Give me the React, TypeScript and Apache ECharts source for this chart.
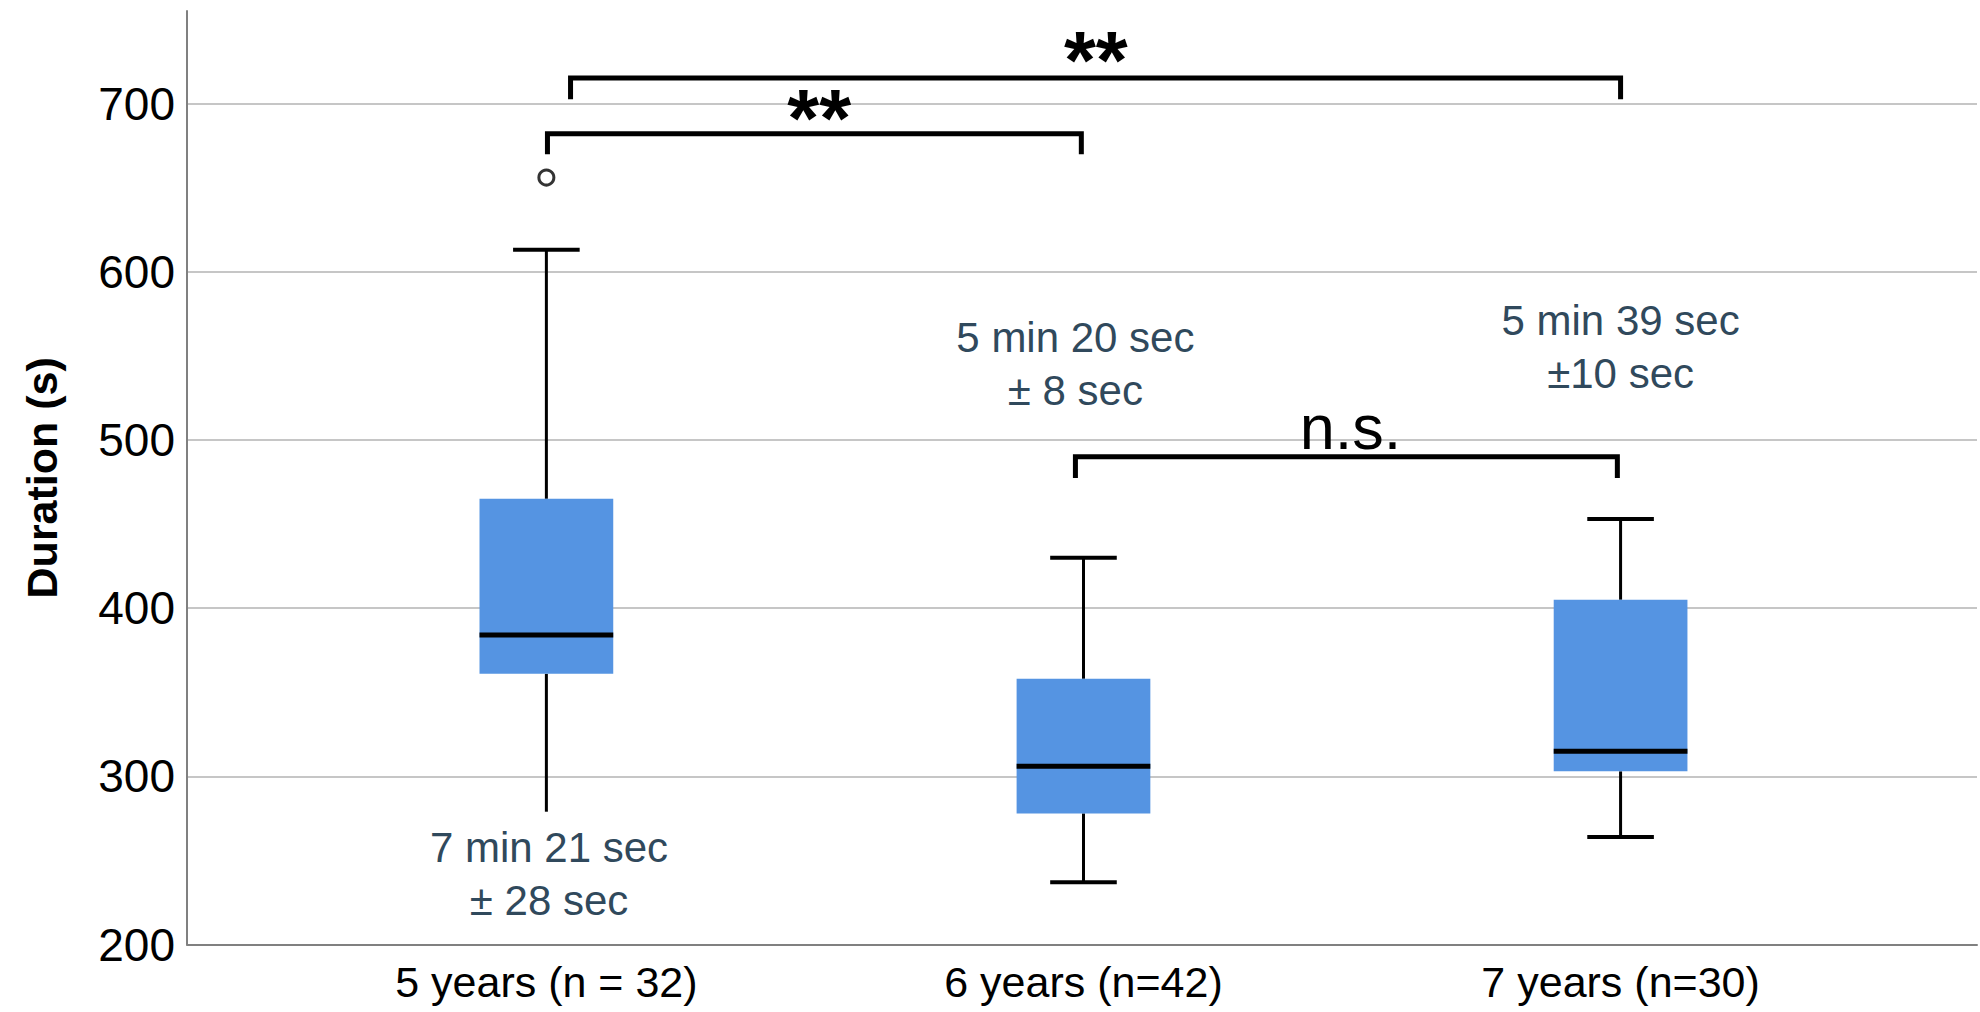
import React, { useEffect, useRef } from "react";
import * as echarts from "echarts";

// ---- data ----
const categories = ["5 years (n = 32)", "6 years (n=42)", "7 years (n=30)"];
const whiskerLow = [279, 237, 264];
const q1 = [361, 278, 303];
const median = [384, 306, 315];
const q3 = [465, 358, 405];
const whiskerHigh = [613, 430, 453];
const lowerCap = [false, true, true];
const outliers: [number, number][] = [[1, 656]];

// significance brackets (x in group units, y in seconds)
const bracketFrom = [1.002, 1.045, 1.985];
const bracketTo = [1.996, 3.0, 2.994];
const bracketTop = [682, 715.2, 490];
const bracketLeg = [669.8, 702.5, 477.4];
const bracketLabels = ["**", "**", "n.s."];
const bracketLabelX = [1.508, 2.023, 2.497];
const bracketLabelY = [691.5, 726, 507.8];

// mean ± SD annotations
const annotations = ["7 min 21 sec\n± 28 sec", "5 min 20 sec\n± 8 sec", "5 min 39 sec\n±10 sec"];
const annotationX = [1.005, 1.985, 3.0];
const annotationY = [241.7, 545.4, 555.2];

const yMin = 200;
const yMax = 755;
const yInterval = 100;

const FONT = "'Liberation Sans', Arial, sans-serif";
const BOX_W = 0.249;
const CAP_W = 0.124;

export default function App() {
  const ref = useRef<HTMLDivElement>(null);

  useEffect(() => {
    if (!ref.current) return;
    const chart = echarts.init(ref.current, undefined, { renderer: "svg" });

    const boxData = categories.map((_, i) => [
      i + 1,
      whiskerLow[i],
      q1[i],
      median[i],
      q3[i],
      whiskerHigh[i],
      lowerCap[i] ? 1 : 0,
    ]);

    const bracketData = bracketFrom.map((f, i) => [f, bracketTo[i], bracketTop[i], bracketLeg[i]]);
    const bracketLabelData = bracketLabels.map((t, i) => [bracketLabelX[i], bracketLabelY[i], t]);
    const annotationData = annotations.map((t, i) => [annotationX[i], annotationY[i], t]);

    const option: any = {
      animation: false,
      backgroundColor: "#ffffff",
      grid: { left: 187, right: 0, top: 11, bottom: 67.4, containLabel: false },
      xAxis: {
        type: "value",
        min: 0.3309,
        max: 3.6636,
        axisLine: { show: true, lineStyle: { color: "#808080", width: 2 } },
        axisTick: { show: false },
        splitLine: { show: false },
        axisLabel: {
          fontFamily: FONT,
          fontSize: 43,
          color: "#000",
          margin: 16,
          formatter: (v: number) => {
            const k = Math.round(v);
            return Math.abs(v - k) < 1e-6 && k >= 1 && k <= categories.length ? categories[k - 1] : "";
          },
        },
      },
      yAxis: {
        type: "value",
        min: yMin,
        max: yMax,
        interval: yInterval,
        name: "Duration (s)",
        nameLocation: "middle",
        nameRotate: 90,
        nameGap: 124,
        nameTextStyle: { fontFamily: FONT, fontSize: 43, fontWeight: "bold", color: "#000" },
        axisLine: { show: true, lineStyle: { color: "#808080", width: 2 } },
        axisTick: { show: false },
        splitLine: { show: true, showMaxLine: false, lineStyle: { color: "#c6c6c6", width: 2 } },
        axisLabel: {
          fontFamily: FONT,
          fontSize: 46,
          color: "#000",
          margin: 12,
          padding: [12, 0, 0, 0],
          showMaxLabel: false,
          formatter: (v: number) => (v % yInterval === 0 ? String(v) : ""),
        },
      },
      series: [
        {
          type: "custom",
          name: "box",
          data: boxData,
          encode: { x: 0, y: [1, 2, 3, 4, 5] },
          renderItem: (params: any, api: any) => {
            const x = api.value(0);
            const half = api.size([BOX_W, 0])[0] / 2;
            const capHalf = api.size([CAP_W, 0])[0] / 2;
            const pLow = api.coord([x, api.value(1)]);
            const pQ1 = api.coord([x, api.value(2)]);
            const pMed = api.coord([x, api.value(3)]);
            const pQ3 = api.coord([x, api.value(4)]);
            const pHigh = api.coord([x, api.value(5)]);
            const cx = pMed[0];
            const lineStyle = { stroke: "#000", lineWidth: 3 };
            const children: any[] = [
              { type: "line", shape: { x1: cx, y1: pQ1[1], x2: cx, y2: pLow[1] }, style: lineStyle },
              { type: "line", shape: { x1: cx, y1: pQ3[1], x2: cx, y2: pHigh[1] }, style: lineStyle },
              {
                type: "line",
                shape: { x1: cx - capHalf, y1: pHigh[1], x2: cx + capHalf, y2: pHigh[1] },
                style: { stroke: "#000", lineWidth: 4 },
              },
            ];
            if (api.value(6) === 1) {
              children.push({
                type: "line",
                shape: { x1: cx - capHalf, y1: pLow[1], x2: cx + capHalf, y2: pLow[1] },
                style: { stroke: "#000", lineWidth: 4 },
              });
            }
            children.push({
              type: "rect",
              shape: { x: cx - half, y: pQ3[1], width: half * 2, height: pQ1[1] - pQ3[1] },
              style: { fill: "#5594E2" },
            });
            children.push({
              type: "line",
              shape: { x1: cx - half, y1: pMed[1], x2: cx + half, y2: pMed[1] },
              style: { stroke: "#000", lineWidth: 5 },
            });
            return { type: "group", children };
          },
          z: 3,
        },
        {
          type: "scatter",
          name: "outliers",
          data: outliers,
          symbol: "circle",
          symbolSize: 15,
          itemStyle: { color: "#fff", borderColor: "#000", borderWidth: 3 },
          z: 4,
        },
        {
          type: "custom",
          name: "brackets",
          data: bracketData,
          clip: false,
          encode: { x: [0, 1], y: [2, 3] },
          renderItem: (params: any, api: any) => {
            const a = api.coord([api.value(0), api.value(3)]);
            const b = api.coord([api.value(0), api.value(2)]);
            const c = api.coord([api.value(1), api.value(2)]);
            const d = api.coord([api.value(1), api.value(3)]);
            return {
              type: "polyline",
              shape: { points: [a, b, c, d] },
              style: { stroke: "#000", lineWidth: 5, fill: null, lineJoin: "miter", lineCap: "butt" },
            };
          },
          z: 5,
        },
        {
          type: "custom",
          name: "bracketLabels",
          data: bracketLabelData,
          clip: false,
          encode: { x: 0, y: 1 },
          renderItem: (params: any, api: any) => {
            const p = api.coord([api.value(0), api.value(1)]);
            const t = bracketLabels[params.dataIndex];
            const stars = t.indexOf("*") >= 0;
            return {
              type: "text",
              x: p[0],
              y: p[1],
              style: {
                text: t,
                fontFamily: FONT,
                fontSize: stars ? 82 : 63,
                fontWeight: stars ? "bold" : "normal",
                fill: "#000",
                align: "center",
                verticalAlign: "middle",
              },
            };
          },
          z: 6,
        },
        {
          type: "custom",
          name: "annotations",
          data: annotationData,
          clip: false,
          encode: { x: 0, y: 1 },
          renderItem: (params: any, api: any) => {
            const p = api.coord([api.value(0), api.value(1)]);
            return {
              type: "text",
              x: p[0],
              y: p[1],
              style: {
                text: annotations[params.dataIndex],
                fontFamily: FONT,
                fontSize: 42,
                lineHeight: 53,
                fill: "#30495C",
                align: "center",
                verticalAlign: "middle",
              },
            };
          },
          z: 6,
        },
      ],
    };

    chart.setOption(option);
    return () => chart.dispose();
  }, []);

  return (
    <div
      ref={ref}
      style={{ position: "absolute", left: 0, top: 0, width: 1980, height: 1012, background: "#fff" }}
    />
  );
}
